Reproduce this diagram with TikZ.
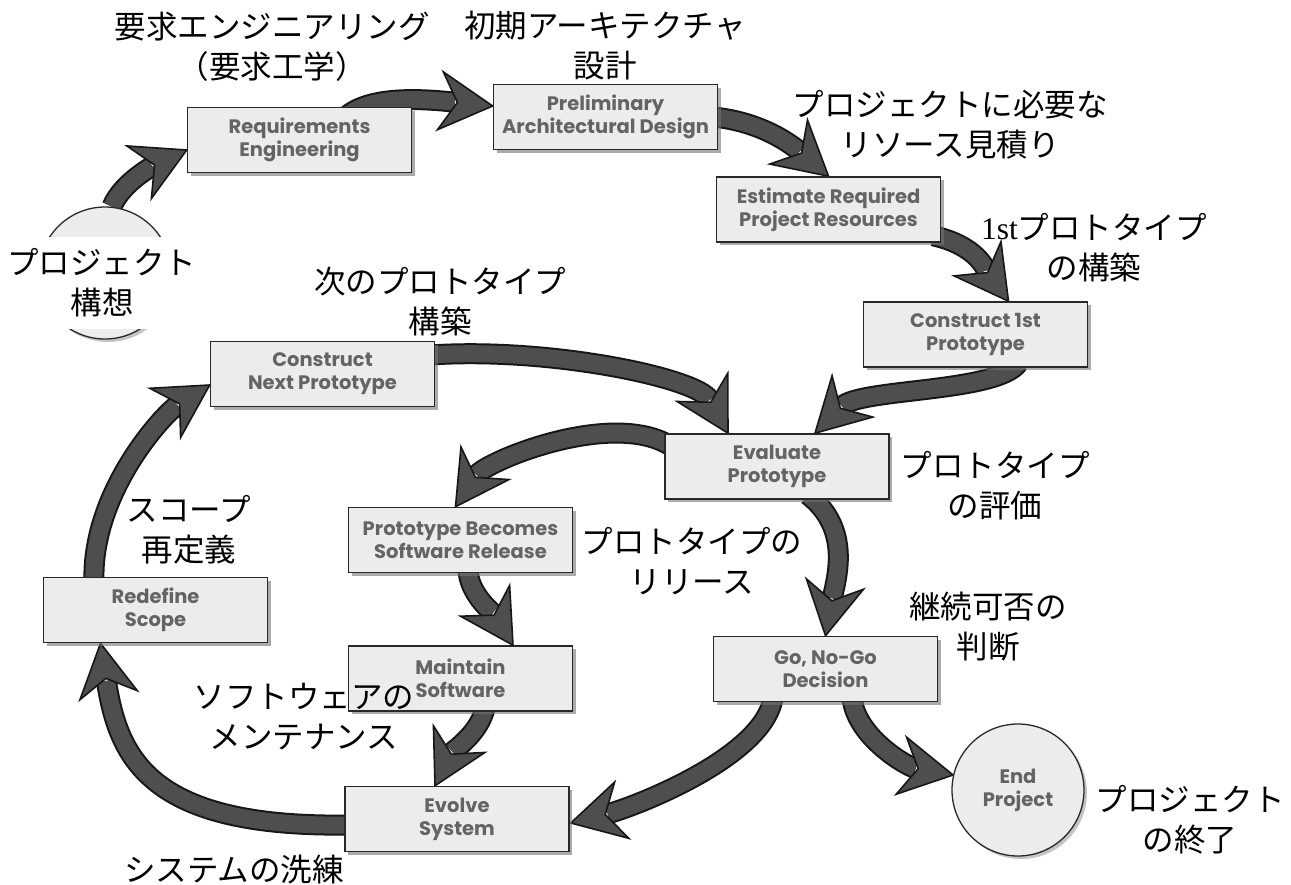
\documentclass[tikz,border=0pt]{standalone}
\usepackage{fontspec}
\setmainfont{Fira Sans}
\newfontfamily\jpfont{Noto Sans CJK JP}
\newfontfamily\latinserif{Liberation Serif}
\newfontfamily\boxfont{Poppins}
\usetikzlibrary{decorations.markings,shadows}

\definecolor{boxfill}{RGB}{236,236,236}
\definecolor{boxline}{RGB}{40,40,40}
\definecolor{boxtext}{RGB}{100,100,100}
\definecolor{arrowfill}{RGB}{78,78,78}
\definecolor{arrowline}{RGB}{22,22,22}

\pgfdeclarelayer{back}
\pgfsetlayers{back,main}

\begin{document}
\begin{tikzpicture}[x=1pt,y=-1pt,
  stage/.style={draw=boxline, line width=1.6pt, fill=boxfill,
    minimum width=224pt, minimum height=65pt, inner sep=0pt, align=center,
    font=\boxfont\bfseries\fontsize{19.5}{23}\selectfont, text=boxtext,
    drop shadow={shadow xshift=3pt, shadow yshift=-3pt, fill=black!55, opacity=0.6}},
  terminal/.style={circle, draw=boxline, line width=1.3pt, fill=boxfill,
    minimum size=132pt, inner sep=0pt, align=center,
    font=\boxfont\bfseries\fontsize{19.5}{23}\selectfont, text=boxtext,
    drop shadow={shadow xshift=3pt, shadow yshift=-3pt, fill=black!45, opacity=0.5}},
  jlabel/.style={align=center, inner sep=0pt, font=\jpfont\fontsize{31.5}{40}\selectfont},
  flow/.style={draw=arrowfill, line width=17pt, shorten >=38pt,
    preaction={draw=arrowline, line width=21pt, shorten >=38pt},
    postaction={decorate, decoration={markings, mark=at position -0.5pt with {
      \filldraw[fill=arrowfill, draw=arrowline, line width=1.6pt, line join=miter,
        shorten >=0pt, shorten <=0pt]
        (0.5pt,0pt) -- (-52pt,29pt) -- (-35pt,0pt) -- (-52pt,-29pt) -- cycle;}}}}
]
\useasboundingbox (0,0) rectangle (1291,884);

% terminals
\node[terminal] (start) at (105,273) {};
\node[terminal] (finish) at (1018,790) {End\\Project};

% process stages
\node[stage] (req)    at (299.5,140)  {Requirements\\Engineering};
\node[stage] (prelim) at (605.5,117)  {Preliminary\\Architectural Design};
\node[stage] (est)    at (828.5,209.5){Estimate Required\\Project Resources};
\node[stage] (cfirst) at (975.5,334.5){Construct 1st\\Prototype};
\node[stage] (cnext)  at (322.5,374)  {Construct\\Next Prototype};
\node[stage] (eval)   at (777,466.5)  {Evaluate\\Prototype};
\node[stage] (rel)    at (460.5,540)  {Prototype Becomes\\Software Release};
\node[stage] (redef)  at (155.5,610)  {Redefine\\Scope};
\node[stage] (maint)  at (460.5,678.5){Maintain\\Software};
\node[stage] (gonogo) at (825.5,669)  {Go, No-Go\\Decision};
\node[stage] (evolve) at (457,819)    {Evolve\\System};

% flow arrows
\begin{pgfonlayer}{back}
\draw[flow] (start.84) .. controls +(10,-25) and +(-30,14) .. ([shift={(0,10)}]req.west);
\draw[flow] ([shift={(45,-22)}]req.center) .. controls +(25,-25) and +(-60,-6) .. ([shift={(0,-11)}]prelim.west);
\draw[flow] ([shift={(-5,0)}]prelim.east) .. controls +(50,5) and +(-35,-30) .. (est.north);
\draw[flow] ([shift={(-8,-7)}]est.south east) .. controls +(45,10) and +(-22,-30) .. ([shift={(33,0)}]cfirst.north);
\draw[flow] ([shift={(43,-5)}]cfirst.south) .. controls +(-20,30) and +(45,-45) .. ([shift={(38,0)}]eval.north);
\draw[flow] ([shift={(-5,-19)}]cnext.east) .. controls +(120,-8) and +(-30,-55) .. ([shift={(-49,0)}]eval.north);
\draw[flow] ([shift={(5,-21.5)}]eval.west) .. controls +(-60,-35) and +(30,-45) .. ([shift={(-5,0)}]rel.north);
\draw[flow] ([shift={(31,-5)}]eval.south) .. controls +(45,35) and +(10,-55) .. (gonogo.north);
\draw[flow] ([shift={(7.5,-5)}]rel.south) .. controls +(0,25) and +(-20,-32) .. ([shift={(52.5,0)}]maint.north);
\draw[flow] ([shift={(24.5,-4)}]maint.south) .. controls +(-5,25) and +(18,-35) .. ([shift={(-22,0)}]evolve.north);
\draw[flow] ([shift={(-52.5,-4)}]gonogo.south) .. controls +(-10,60) and +(60,-15) .. ([shift={(1,4)}]evolve.east);
\draw[flow] ([shift={(26.5,-4)}]gonogo.south) .. controls +(5,40) and +(-45,-8) .. (finish.167);
\draw[flow] ([shift={(5,6)}]evolve.west) .. controls +(-200,3) and +(18,115) .. ([shift={(-55,0)}]redef.south);
\draw[flow] ([shift={(-61.5,5)}]redef.north) .. controls +(-3,-90) and +(-45,28) .. ([shift={(0,11)}]cnext.west);
\end{pgfonlayer}

% Japanese captions
\node[jlabel, fill=white, inner xsep=4pt, inner ysep=12pt] (lstart) at (102,283) {プロジェクト\\構想};
\node[jlabel] (lreq)    at (272,47)   {要求エンジニアリング\\（要求工学）};
\node[jlabel] (lprelim) at (605,46)   {初期アーキテクチャ\\設計};
\node[jlabel] (lest)    at (950,125)  {プロジェクトに必要な\\リソース見積り};
\node[jlabel] (lcfirst) at (1094,248) {{\latinserif 1st}プロトタイプ\\の構築};
\node[jlabel] (lcnext)  at (440,302)  {次のプロトタイプ\\構築};
\node[jlabel] (leval)   at (995,486)  {プロトタイプ\\の評価};
\node[jlabel] (lredef)  at (189,530)  {スコープ\\再定義};
\node[jlabel] (lrel)    at (692,561)  {プロトタイプの\\リリース};
\node[jlabel] (lgonogo) at (988,627)  {継続可否の\\判断};
\node[jlabel] (lmaint)  at (304,717)  {ソフトウェアの\\メンテナンス};
\node[jlabel] (levolve) at (234,870)  {システムの洗練};
\node[jlabel] (lfinish) at (1190,820) {プロジェクト\\の終了};
\end{tikzpicture}
\end{document}
